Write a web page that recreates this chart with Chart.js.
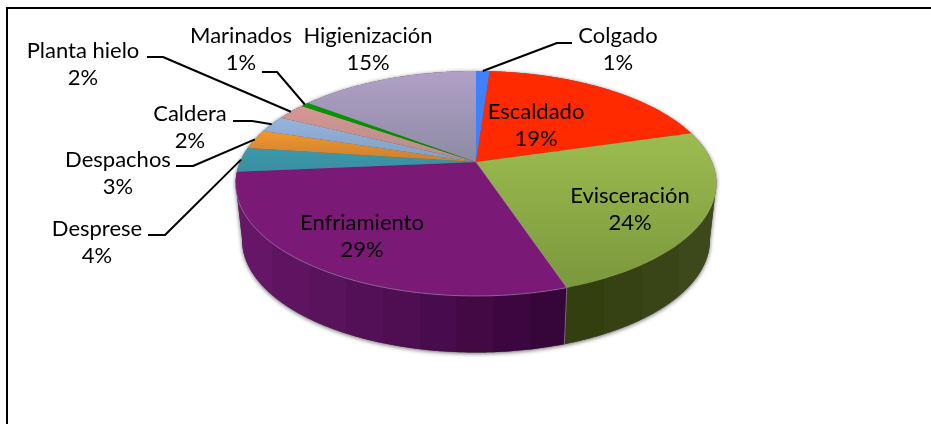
<!DOCTYPE html>
<html lang="es">
<head>
<meta charset="utf-8">
<title>Consumo por área</title>
<style>
  html, body { margin: 0; padding: 0; background: #fff; overflow: hidden; }
  #wrap { position: relative; width: 931px; height: 424px; }
  #frame { position: absolute; left: 6px; top: 7px; right: 0; bottom: 0; border-left: 2px solid #000; border-top: 2px solid #000; }
  canvas { position: absolute; left: 0; top: 0; }
</style>
<script src="https://cdn.jsdelivr.net/npm/chart.js@4"></script>
</head>
<body>
<div id="wrap">
  <div id="frame"></div>
  <canvas id="pie" width="931" height="424"></canvas>
</div>
<script>
// chart data (percent of total)
const categories = ['Colgado', 'Escaldado', 'Evisceración', 'Enfriamiento', 'Desprese', 'Despachos', 'Caldera', 'Planta hielo', 'Marinados', 'Higienización'];
const shares = [1.1, 19.4, 24.4, 28.7, 3.5, 2.8, 2.4, 2.4, 0.7, 14.6];

// slice colours
const baseColors = ['#3f80ff', '#ff2a00', '#8fae45', '#7a1a76', '#3a96a8', '#e88f2c', '#8ba9d6', '#d09290', '#009a00', '#a598bb'];
const lightColors = ['#3f80ff', '#ff2a00', '#9dbc4f', '#7a1a76', '#3a98ac', '#f2962e', '#97b3de', '#d99694', '#009a00', '#b1a0c8'];
const darkColors = ['#3f80ff', '#ff2a00', '#7a983d', '#7a1a76', '#3a8fa0', '#c88030', '#7f9fc0', '#b08e88', '#008a00', '#8c8ba2'];
const sideLeft = ['#1f4080', '#801500', '#343f10', '#651667', '#1d4b54', '#744716', '#45546b', '#684948', '#004d00', '#524c5e'];
const sideRight = ['#1f4080', '#801500', '#3d481b', '#36053a', '#1d4b54', '#744716', '#45546b', '#684948', '#004d00', '#524c5e'];

// label placement: centre x, centre y of the first line, and leader line elbow
const labelSpots = [
  { x: 618, y: 36, from: [572, 43], elbow: [557, 43] },
  { x: 536, y: 112 },
  { x: 630, y: 196 },
  { x: 362, y: 223 },
  { x: 97, y: 229, from: [148, 235], elbow: [165, 235] },
  { x: 118, y: 160, from: [176, 166], elbow: [193, 166] },
  { x: 190, y: 114, from: [233, 121], elbow: [252, 121] },
  { x: 83, y: 51, from: [147, 57], elbow: [163, 57] },
  { x: 241, y: 36, from: [262, 72], elbow: [277, 72] },
  { x: 368, y: 36 }
];

// perspective of the tilted disc
const tilt = { a: 236, b: 108.4, w: 0.191 };
const wall = { drop: 56.5, shrink: 0.973, from: 0.19, to: Math.PI - 0.19 };

function project(arc, angle) {
  const u = Math.cos(angle), v = Math.sin(angle);
  const d = 1 - tilt.w * v;
  return { x: arc.x + tilt.a * u / d, y: arc.y + tilt.b * v / d };
}

function rimPoints(arc, start, end) {
  const pts = [];
  const steps = Math.max(2, Math.ceil((end - start) / 0.01));
  for (let i = 0; i <= steps; i++) {
    pts.push(project(arc, start + (end - start) * i / steps));
  }
  return pts;
}

function lower(arc, p) {
  return { x: arc.x + (p.x - arc.x) * wall.shrink, y: p.y + wall.drop };
}

function tracePath(ctx, pts) {
  ctx.beginPath();
  pts.forEach((p, i) => i ? ctx.lineTo(p.x, p.y) : ctx.moveTo(p.x, p.y));
  ctx.closePath();
}

// wall colour comes in flat vertical bands like the original
function bandFill(ctx, x0, x1, c0, c1) {
  const grad = ctx.createLinearGradient(x0, 0, x1, 0);
  const n = Math.max(1, Math.round(Math.abs(x1 - x0) / 38));
  const mix = (t) => {
    const parse = (c) => [1, 3, 5].map(i => parseInt(c.slice(i, i + 2), 16));
    const a = parse(c0), b = parse(c1);
    return 'rgb(' + a.map((q, i) => Math.round(q + (b[i] - q) * t)).join(',') + ')';
  };
  for (let i = 0; i < n; i++) {
    const col = mix(n > 1 ? i / (n - 1) : 0);
    grad.addColorStop(i / n, col);
    grad.addColorStop((i + 1) / n, col);
  }
  return grad;
}

const disc3d = {
  id: 'disc3d',
  beforeDatasetsDraw(chart) {
    const ctx = chart.ctx;
    const arcs = chart.getDatasetMeta(0).data;
    const first = arcs[0];

    // soft shadow under the wall
    ctx.save();
    const outline = rimPoints(first, wall.from, wall.to).map(p => lower(first, p));
    const topEdge = rimPoints(first, wall.to, wall.from + 2 * Math.PI);
    tracePath(ctx, outline.concat(topEdge));
    ctx.shadowColor = 'rgba(0,0,0,0.6)';
    ctx.shadowBlur = 4;
    ctx.shadowOffsetX = 0;
    ctx.shadowOffsetY = 1;
    ctx.fillStyle = '#555';
    ctx.fill();
    ctx.restore();

    // wall
    arcs.forEach((arc, i) => {
      const start = Math.max(arc.startAngle, wall.from);
      const end = Math.min(arc.endAngle, wall.to);
      if (end <= start) return;
      const upper = rimPoints(arc, start, end);
      const poly = upper.concat(upper.map(p => lower(arc, p)).reverse());
      const xs = upper.map(p => p.x);
      const xa = Math.min(...xs), xb = Math.max(...xs);
      tracePath(ctx, poly);
      ctx.fillStyle = bandFill(ctx, xa, xb, sideLeft[i], sideRight[i]);
      ctx.fill();
    });

    // top face
    arcs.forEach((arc, i) => {
      const pts = [{ x: arc.x, y: arc.y }].concat(rimPoints(arc, arc.startAngle, arc.endAngle));
      const ys = pts.map(p => p.y);
      const grad = ctx.createLinearGradient(0, Math.min(...ys), 0, Math.max(...ys));
      grad.addColorStop(0, lightColors[i]);
      grad.addColorStop(1, darkColors[i]);
      tracePath(ctx, pts);
      ctx.fillStyle = grad;
      ctx.fill();
    });

    // thin light edge along the front of the purple slice
    const big = arcs[3];
    ctx.strokeStyle = 'rgba(180,160,190,0.5)';
    ctx.lineWidth = 1;
    const rim = rimPoints(big, big.startAngle, wall.to);
    ctx.beginPath();
    const seamEnd = lower(big, rim[0]);
    ctx.moveTo(seamEnd.x, seamEnd.y);
    rim.forEach(p => ctx.lineTo(p.x, p.y));
    ctx.stroke();
    ctx.beginPath();
    ctx.moveTo(rim[0].x, rim[0].y);
    ctx.lineTo(big.x, big.y);
    ctx.stroke();

    // the library's own flat arcs are replaced by the tilted ones
    return false;
  },
  afterDraw(chart) {
    const ctx = chart.ctx;
    const arcs = chart.getDatasetMeta(0).data;
    ctx.save();
    ctx.strokeStyle = '#000';
    ctx.lineWidth = 2;
    ctx.lineJoin = 'round';
    labelSpots.forEach((spot, i) => {
      if (!spot.from) return;
      const arc = arcs[i];
      const tip = project(arc, (arc.startAngle + arc.endAngle) / 2);
      ctx.beginPath();
      ctx.moveTo(spot.from[0], spot.from[1]);
      ctx.lineTo(spot.elbow[0], spot.elbow[1]);
      ctx.lineTo(tip.x, tip.y);
      ctx.stroke();
    });
    ctx.fillStyle = '#000';
    ctx.font = '22px Lato, sans-serif';
    ctx.textAlign = 'center';
    ctx.textBaseline = 'middle';
    labelSpots.forEach((spot, i) => {
      ctx.fillText(categories[i], spot.x, spot.y);
      ctx.fillText(Math.round(shares[i]) + '%', spot.x, spot.y + 27);
    });
    ctx.restore();
  }
};

new Chart(document.getElementById('pie').getContext('2d'), {
  type: 'pie',
  data: {
    labels: categories,
    datasets: [{
      data: shares,
      backgroundColor: baseColors,
      borderWidth: 0
    }]
  },
  options: {
    responsive: false,
    animation: false,
    layout: { padding: { left: 21, top: 71, bottom: 171 } },
    plugins: {
      legend: { display: false },
      tooltip: { enabled: false }
    }
  },
  plugins: [disc3d]
});
</script>
</body>
</html>
